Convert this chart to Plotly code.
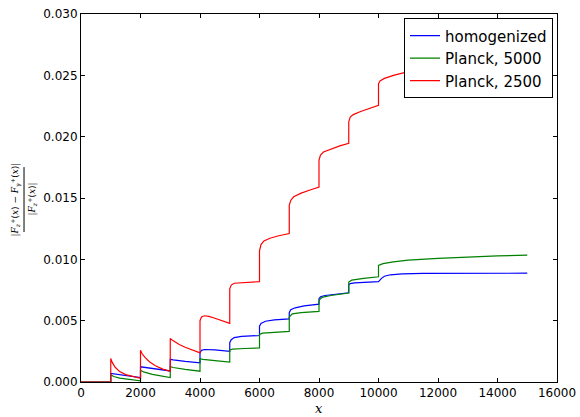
import plotly.graph_objects as go

# Knot values of each relative-error curve; repeated x values mark the jumps.
x_homog = [0, 1000,
           1000, 1100, 1400, 2000,
           2000, 2100, 2500, 3000,
           3000, 3100, 3500, 4000,
           4000, 4050, 4150, 4500, 5000,
           5000, 5050, 5150, 5400, 6000,
           6000, 6050, 6200, 6500, 7000,
           7000, 7050, 7200, 7500, 8000,
           8000, 8050, 8200, 8500, 9000,
           9000, 9050, 9200, 9500, 10000,
           10100, 10200, 10400, 10800, 11500, 12500, 15000]
y_homog = [0.0, 0.0,
           0.00070, 0.00066, 0.00055, 0.00036,
           0.00124, 0.00120, 0.00106, 0.00090,
           0.00185, 0.00180, 0.00168, 0.00156,
           0.00240, 0.00258, 0.00265, 0.00262, 0.00250,
           0.00320, 0.00345, 0.00362, 0.00372, 0.00379,
           0.00455, 0.00478, 0.00495, 0.00506, 0.00515,
           0.00565, 0.00590, 0.00605, 0.00620, 0.00635,
           0.00680, 0.00695, 0.00705, 0.00715, 0.00727,
           0.00795, 0.00802, 0.00808, 0.00812, 0.00818,
           0.00845, 0.00862, 0.00874, 0.00881, 0.00885, 0.00886, 0.00887]

x_p5000 = [0, 1000,
           1000, 1100, 1300, 1600, 2000,
           2000, 2100, 2400, 3000,
           3000, 3100, 3500, 4000,
           4000, 4100, 4500, 5000,
           5000, 5100, 5500, 6000,
           6000, 6100, 6500, 7000,
           7000, 7100, 7400, 8000,
           8000, 8100, 8400, 9000,
           9000, 9100, 9500, 10000,
           10000, 10150, 10500, 11000, 12000, 13000, 14000, 15000]
y_p5000 = [0.0, 0.0,
           0.00060, 0.00045, 0.00032, 0.00020, 0.00010,
           0.00096, 0.00082, 0.00062, 0.00036,
           0.00125, 0.00118, 0.00103, 0.00088,
           0.00190, 0.00185, 0.00174, 0.00162,
           0.00262, 0.00268, 0.00273, 0.00278,
           0.00388, 0.00398, 0.00405, 0.00412,
           0.00530, 0.00555, 0.00565, 0.00575,
           0.00665, 0.00690, 0.00705, 0.00725,
           0.00815, 0.00830, 0.00845, 0.00858,
           0.00950, 0.00965, 0.00980, 0.00993, 0.01008, 0.01020, 0.01028, 0.01035]

x_p2500 = [0, 1000,
           1000, 1050, 1150, 1300, 1500, 1750, 2000,
           2000, 2050, 2150, 2300, 2500, 2750, 3000,
           3000, 3050, 3150, 3300, 3500, 3750, 4000,
           4000, 4050, 4150, 4300, 4500, 4750, 5000,
           5000, 5050, 5150, 5400, 5700, 6000,
           6000, 6050, 6150, 6350, 6650, 7000,
           7000, 7050, 7150, 7400, 7700, 8000,
           8000, 8050, 8150, 8400, 8700, 9000,
           9000, 9050, 9150, 9400, 9700, 10000,
           10000, 10050, 10200, 10500, 11000, 12000, 13000, 14000, 15000]
y_p2500 = [0.0, 0.0,
           0.00192, 0.00160, 0.00120, 0.00085, 0.00060, 0.00042, 0.00030,
           0.00259, 0.00232, 0.00200, 0.00165, 0.00133, 0.00105, 0.00088,
           0.00354, 0.00345, 0.00328, 0.00305, 0.00283, 0.00258, 0.00238,
           0.00500, 0.00530, 0.00540, 0.00535, 0.00520, 0.00498, 0.00478,
           0.00760, 0.00790, 0.00805, 0.00810, 0.00814, 0.00818,
           0.01070, 0.01120, 0.01150, 0.01172, 0.01192, 0.01210,
           0.01440, 0.01480, 0.01510, 0.01540, 0.01565, 0.01590,
           0.01810, 0.01850, 0.01875, 0.01900, 0.01925, 0.01946,
           0.02120, 0.02160, 0.02180, 0.02205, 0.02230, 0.02255,
           0.02430, 0.02455, 0.02475, 0.02500, 0.02530, 0.02580, 0.02620, 0.02650, 0.02670]

series = [
    ("homogenized", x_homog, y_homog, "#0000ff"),
    ("Planck, 5000", x_p5000, y_p5000, "#008000"),
    ("Planck, 2500", x_p2500, y_p2500, "#ff0000"),
]

x_ticks = [0, 2000, 4000, 6000, 8000, 10000, 12000, 14000, 16000]
y_ticks = [0.000, 0.005, 0.010, 0.015, 0.020, 0.025, 0.030]

fig = go.Figure()
for name, xs, ys, color in series:
    fig.add_trace(go.Scatter(x=xs, y=ys, mode="lines", name=name,
                             line=dict(color=color, width=1.2)))

axis_common = dict(
    showline=True, linecolor="black", linewidth=1, mirror="allticks",
    ticks="inside", ticklen=4, tickwidth=1, tickcolor="black",
    showgrid=False, zeroline=False, automargin=False,
    tickfont=dict(family="DejaVu Sans", size=12, color="black"),
)

fig.update_layout(
    template="none",
    width=580, height=417,
    margin=dict(l=81, r=23, t=14, b=35, pad=0),
    paper_bgcolor="white", plot_bgcolor="white",
    xaxis=dict(range=[0, 16000], tickvals=x_ticks,
               ticktext=[str(v) for v in x_ticks], **axis_common),
    yaxis=dict(range=[0, 0.030], tickvals=y_ticks,
               ticktext=[f"{v:.3f}" for v in y_ticks], **axis_common),
    legend=dict(x=0.9916, y=0.988, xanchor="right", yanchor="top",
                bgcolor="white", bordercolor="black", borderwidth=1,
                font=dict(family="DejaVu Sans", size=15, color="black"),
                itemwidth=30, entrywidth=112, entrywidthmode="pixels"),
    showlegend=True,
)

serif = dict(family="DejaVu Serif", color="black")

# x-axis label
fig.add_annotation(text="<i>x</i>", xref="paper", yref="paper",
                   x=0.5, y=-0.0707, xanchor="center", yanchor="middle",
                   showarrow=False, font=dict(size=13, **serif))

# y-axis label drawn as a rotated fraction
fig.add_annotation(
    text="|<i>F</i><sub><i>z</i></sub><sup>+</sup>(<i>x</i>) − "
         "<i>F</i><sub>γ</sub><sup>+</sup>(<i>x</i>)|",
    xref="paper", yref="paper", x=-0.1366, y=0.496, textangle=-90,
    xanchor="center", yanchor="middle",
    showarrow=False, font=dict(size=9, **serif))
fig.add_annotation(
    text="|<i>F</i><sub><i>z</i></sub><sup>+</sup>(<i>x</i>)|",
    xref="paper", yref="paper", x=-0.1029, y=0.496, textangle=-90,
    xanchor="center", yanchor="middle",
    showarrow=False, font=dict(size=9, **serif))
fig.add_shape(type="line", xref="paper", yref="paper",
              x0=-0.1197, x1=-0.1197, y0=0.4076, y1=0.584,
              line=dict(color="black", width=1))

fig.write_html("out.html")
